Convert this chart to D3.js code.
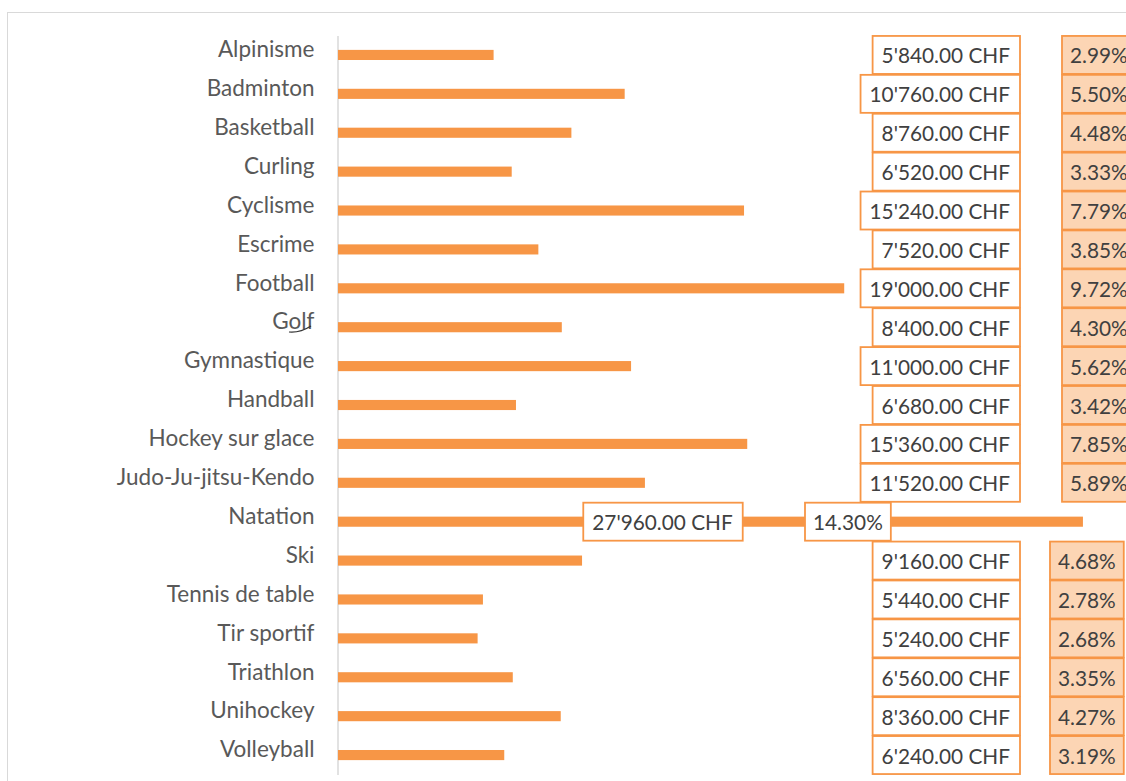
<!DOCTYPE html>
<html lang="fr">
<head>
<meta charset="UTF-8">
<title>Sports - montants</title>
<script src="https://d3js.org/d3.v7.min.js"></script>
<style>
    body { margin: 0; background: #fff; }
    svg { display: block; }
    .cat text { font-family: Lato, "Open Sans", sans-serif; font-size: 22.5px; fill: #595959; }
    .lbl { font-family: Lato, "Open Sans", sans-serif; font-size: 20.8px; fill: #404040; }
</style>
</head>
<body>
<svg id="chart" width="1126" height="781"></svg>
<script>
    // data
    const categories = ['Alpinisme', 'Badminton', 'Basketball', 'Curling', 'Cyclisme', 'Escrime',
        'Football', 'Golf', 'Gymnastique', 'Handball', 'Hockey sur glace', 'Judo-Ju-jitsu-Kendo',
        'Natation', 'Ski', 'Tennis de table', 'Tir sportif', 'Triathlon', 'Unihockey', 'Volleyball'];
    const amounts = [5840, 10760, 8760, 6520, 15240, 7520, 19000, 8400, 11000, 6680,
        15360, 11520, 27960, 9160, 5440, 5240, 6560, 8360, 6240];
    const shares = [2.99, 5.50, 4.48, 3.33, 7.79, 3.85, 9.72, 4.30, 5.62, 3.42,
        7.85, 5.89, 14.30, 4.68, 2.78, 2.68, 3.35, 4.27, 3.19];

    const orange = '#F79646';
    const lightOrange = '#FCD5B4';

    const svg = d3.select('#chart');

    // chart area frame (cut off at right and bottom)
    svg.append('rect')
        .attr('x', 7.5).attr('y', 12.5)
        .attr('width', 1200).attr('height', 900)
        .attr('fill', 'none')
        .attr('stroke', '#d9d9d9');

    const x = d3.scaleLinear().domain([0, 28000]).range([338, 1084]);
    const y = d3.scaleBand().domain(categories).range([35.5, 774.5]);
    const barH = y.bandwidth() * 0.26;
    const cy = c => y(c) + y.bandwidth() / 2;

    // category axis
    const axis = svg.append('g')
        .attr('class', 'cat')
        .attr('transform', 'translate(337.5,0)')
        .call(d3.axisLeft(y).tickSize(0).tickSizeOuter(0).tickPadding(23));
    axis.select('.domain').attr('stroke', '#d9d9d9').attr('stroke-width', 1.5);
    axis.selectAll('text').attr('dy', '0.1em');

    // spell-check squiggle under "Golf"
    svg.append('path')
        .attr('d', 'M289,332 Q300,333 311,326')
        .attr('fill', 'none')
        .attr('stroke', '#333')
        .attr('stroke-width', 1.2);

    // bars
    svg.append('g')
        .selectAll('rect')
        .data(categories)
        .join('rect')
        .attr('x', x(0))
        .attr('y', c => cy(c) - barH / 2)
        .attr('width', (c, i) => x(amounts[i]) - x(0))
        .attr('height', barH)
        .attr('fill', orange);

    // data labels
    const fmtCHF = v => d3.format(',.2f')(v).replace(/,/g, "'") + ' CHF';
    const fmtPct = v => v.toFixed(2) + '%';
    const boxH = 38;
    const natIdx = categories.indexOf('Natation');

    const labels = svg.append('g');

    function addBox(txt, cyv, fill, anchorX, mode, padL, padR) {
        const g = labels.append('g');
        const rect = g.append('rect');
        const t = g.append('text').attr('class', 'lbl').text(txt);
        const tw = t.node().getComputedTextLength();
        const w = tw + padL + padR;
        let left;
        if (mode === 'right') left = anchorX - w;
        else if (mode === 'center') left = anchorX - w / 2;
        else left = anchorX;
        rect.attr('x', left).attr('y', cyv - boxH / 2)
            .attr('width', w).attr('height', boxH)
            .attr('fill', fill)
            .attr('stroke', orange)
            .attr('stroke-width', 1.8);
        t.attr('x', left + padL).attr('y', cyv + 8.5);
    }

    categories.forEach((c, i) => {
        const yc = cy(c);
        if (i === natIdx) {
            // labels sit inside the long bar
            addBox(fmtCHF(amounts[i]), yc, '#fff', 663, 'center', 9, 10);
            addBox(fmtPct(shares[i]), yc, '#fff', 805, 'left', 8, 8);
        } else {
            addBox(fmtCHF(amounts[i]), yc, '#fff', 1020, 'right', 9, 10);
            addBox(fmtPct(shares[i]), yc, lightOrange, i < natIdx ? 1062 : 1050, 'left', 8, 8);
        }
    });
</script>
</body>
</html>
